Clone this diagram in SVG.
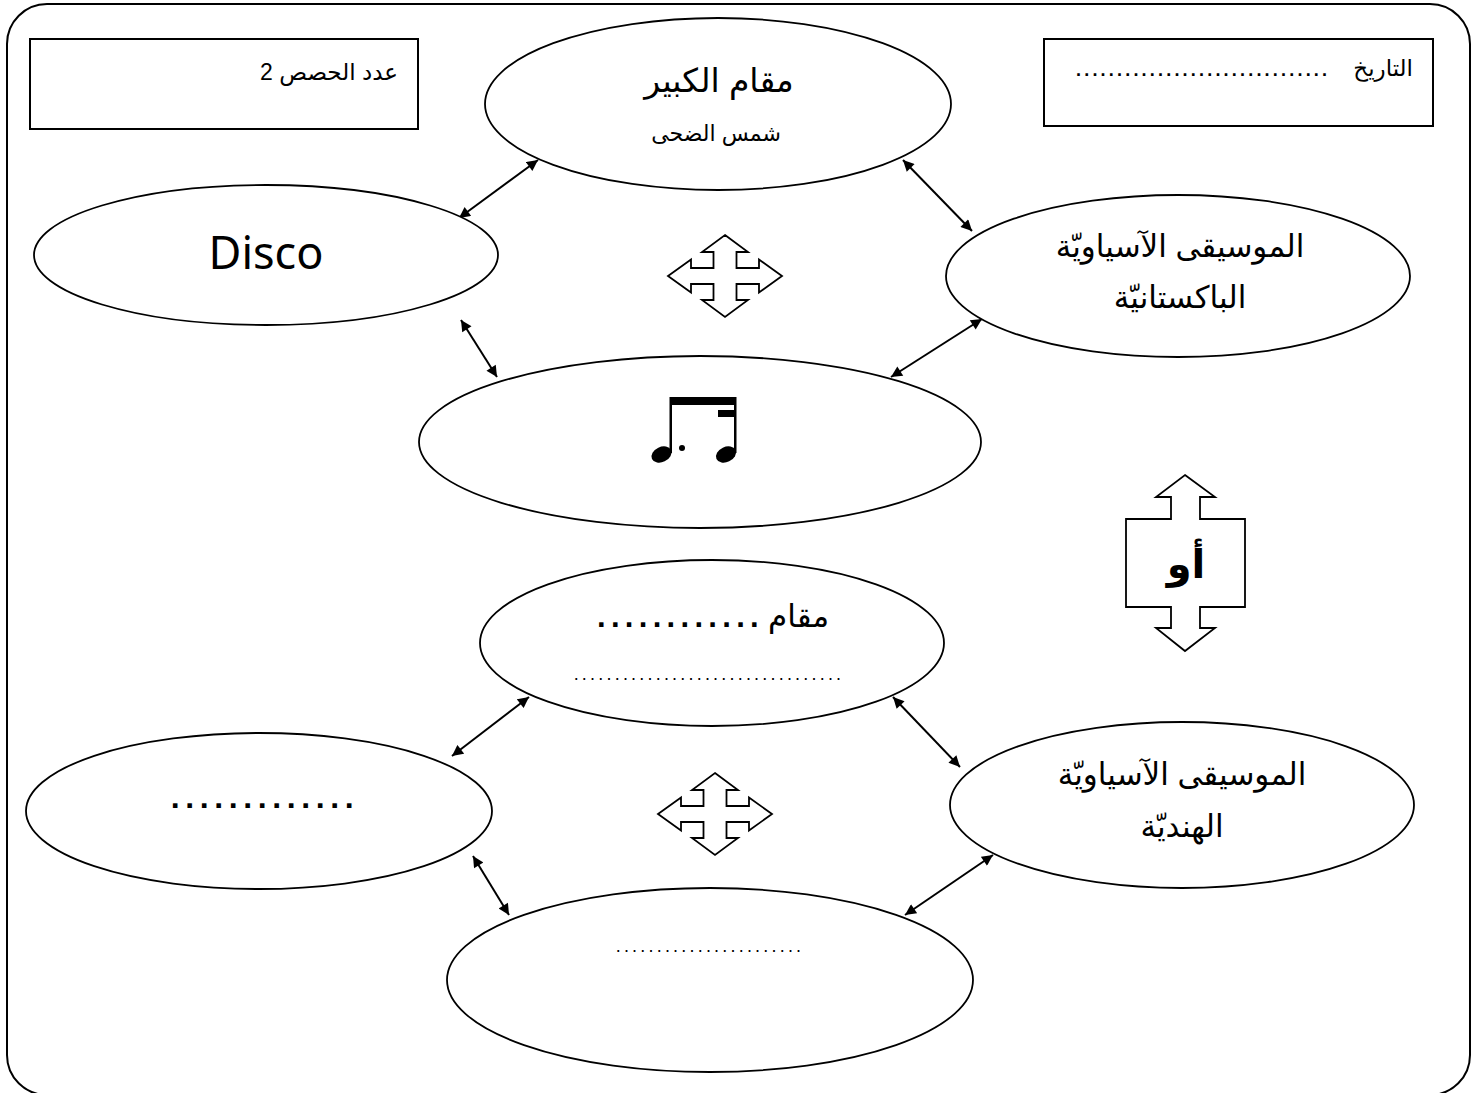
<svg xmlns="http://www.w3.org/2000/svg" width="1478" height="1093" viewBox="0 0 1478 1093">
<style>
.sh{fill:#fff;stroke:#000;stroke-width:1.8}
.bx{fill:#fff;stroke:#000;stroke-width:2}
.ar{font-family:"Liberation Sans","DejaVu Sans","Noto Sans",sans-serif;fill:#000;direction:rtl}
.dt{font-family:"Liberation Sans","DejaVu Sans",sans-serif;fill:#000}
.c{text-anchor:middle}
.d3{letter-spacing:3.2px}
.cn{stroke:#000;stroke-width:2;fill:none;marker-start:url(#ah);marker-end:url(#ah)}
</style>
<defs>
<marker id="ah" viewBox="0 0 10 10" refX="10" refY="5" markerWidth="6" markerHeight="5.5" orient="auto-start-reverse" markerUnits="strokeWidth">
<path d="M0,0 L10,5 L0,10 Z" fill="#000"/>
</marker>
<path id="quad" d="M0,-41 L23,-24 L11.5,-24 L11.5,-8 L34,-8 L34,-16.5 L57,0 L34,16.5 L34,8 L11.5,8 L11.5,24 L23,24 L0,41 L-23,24 L-11.5,24 L-11.5,8 L-34,8 L-34,16.5 L-57,0 L-34,-16.5 L-34,-8 L-11.5,-8 L-11.5,-24 L-23,-24 Z"/>
</defs>
<rect width="1478" height="1093" fill="#fff"/>
<rect x="7" y="4" width="1463" height="1091" rx="40" ry="40" fill="none" stroke="#000" stroke-width="2"/>

<g id="box-sessions">
<rect class="bx" x="30" y="39" width="388" height="90"/>
<text class="ar" x="398" y="80" font-size="23" text-anchor="start">عدد الحصص 2</text>
</g>
<g id="box-date">
<rect class="bx" x="1044" y="39" width="389" height="87"/>
<text class="ar" x="1413" y="76" font-size="23" text-anchor="start">التاريخ</text>
<text class="dt" x="1076" y="76" font-size="18" font-weight="bold" letter-spacing="3.2">...............................</text>
</g>

<g id="connectors">
<line class="cn" x1="459" y1="218" x2="538" y2="160"/>
<line class="cn" x1="903" y1="160" x2="972" y2="231"/>
<line class="cn" x1="461" y1="320" x2="497" y2="377"/>
<line class="cn" x1="891" y1="377" x2="982" y2="319"/>
<line class="cn" x1="452" y1="756" x2="529" y2="697"/>
<line class="cn" x1="893" y1="697" x2="960" y2="767"/>
<line class="cn" x1="473" y1="856" x2="509" y2="915"/>
<line class="cn" x1="905" y1="915" x2="993" y2="855"/>
</g>

<g id="node-maqam-kabir">
<ellipse class="sh" cx="718" cy="104" rx="233" ry="86"/>
<text class="ar c" x="719" y="92" font-size="33">مقام الكبير</text>
<text class="ar c" x="716" y="141" font-size="22">شمس الضحى</text>
</g>
<g id="node-disco">
<ellipse class="sh" cx="266" cy="255" rx="232" ry="70"/>
<text x="266" y="269" font-size="45" text-anchor="middle" font-family="'Noto Sans','Liberation Sans',sans-serif">Disco</text>
</g>
<g id="node-pakistan">
<ellipse class="sh" cx="1178" cy="276" rx="232" ry="81"/>
<text class="ar c" x="1180" y="257" font-size="31">الموسيقى الآسياويّة</text>
<text class="ar c" x="1180" y="308" font-size="31">الباكستانيّة</text>
</g>
<g id="node-rhythm">
<ellipse class="sh" cx="700" cy="442" rx="281" ry="86"/>
<rect x="670" y="397" width="66" height="8" fill="#000"/>
<rect x="718" y="410" width="18" height="7" fill="#000"/>
<rect x="669.5" y="397" width="2.5" height="56" fill="#000"/>
<rect x="734" y="397" width="2.5" height="56" fill="#000"/>
<ellipse cx="661.5" cy="454.5" rx="10.5" ry="7.5" transform="rotate(-25 661.5 454.5)" fill="#000"/>
<ellipse cx="726" cy="454.5" rx="10.5" ry="7.5" transform="rotate(-25 726 454.5)" fill="#000"/>
<circle cx="682" cy="448" r="3" fill="#000"/>
</g>
<g id="arrow-quad-top">
<use href="#quad" transform="translate(725 276)" class="sh"/>
</g>
<g id="arrow-or">
<path class="sh" d="M1185,475 L1215,497 L1200,497 L1200,519 L1245,519 L1245,607 L1200,607 L1200,628 L1215,628 L1185,651 L1156,628 L1171,628 L1171,607 L1126,607 L1126,519 L1171,519 L1171,497 L1156,497 Z"/>
<text class="ar c" x="1186" y="578" font-size="40" font-weight="bold">أو</text>
</g>
<g id="node-maqam-blank">
<ellipse class="sh" cx="712" cy="643" rx="232" ry="83"/>
<text class="ar" x="829" y="627" font-size="31" text-anchor="start">مقام</text>
<text class="dt" x="597" y="627" font-size="31" font-weight="bold" letter-spacing="5.3">............</text>
<text class="ar c d3" x="709" y="680" font-size="18">.................................</text>
</g>
<g id="node-blank-left">
<ellipse class="sh" cx="259" cy="811" rx="233" ry="78"/>
<text class="ar c" x="265" y="808" font-size="32" font-weight="bold" letter-spacing="5.6">.............</text>
</g>
<g id="node-india">
<ellipse class="sh" cx="1182" cy="805" rx="232" ry="83"/>
<text class="ar c" x="1182" y="785" font-size="31">الموسيقى الآسياويّة</text>
<text class="ar c" x="1182" y="837" font-size="31">الهنديّة</text>
</g>
<g id="arrow-quad-bottom">
<use href="#quad" transform="translate(715 814)" class="sh"/>
</g>
<g id="node-blank-bottom">
<ellipse class="sh" cx="710" cy="980" rx="263" ry="92"/>
<text class="ar c d3" x="710" y="952" font-size="18">.......................</text>
</g>
</svg>
